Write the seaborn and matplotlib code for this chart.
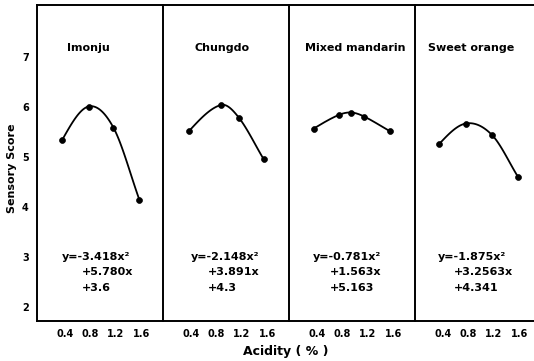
import numpy as np
import pandas as pd
import matplotlib
matplotlib.use("Agg")
import matplotlib.pyplot as plt
import seaborn as sns

# ---- data ----
cultivars = ["Imonju", "Chungdo", "Mixed mandarin", "Sweet orange"]
imonju_x = [0.36, 0.77, 1.16, 1.57]
imonju_y = [5.35, 6.01, 5.59, 4.14]
chungdo_x = [0.37, 0.87, 1.15, 1.54]
chungdo_y = [5.52, 6.04, 5.79, 4.96]
mixed_x = [0.35, 0.74, 0.94, 1.14, 1.54]
mixed_y = [5.57, 5.84, 5.89, 5.81, 5.52]
sweet_x = [0.34, 0.76, 1.17, 1.58]
sweet_y = [5.26, 5.67, 5.44, 4.60]
equations = [
    ["y=-3.418x²", "+5.780x", "+3.6"],
    ["y=-2.148x²", "+3.891x", "+4.3"],
    ["y=-0.781x²", "+1.563x", "+5.163"],
    ["y=-1.875x²", "+3.2563x", "+4.341"],
]
x_ticks = [0.4, 0.8, 1.2, 1.6]
x_ticklabels = ["0.4", "0.8", "1.2", "1.6"]
y_ticks = [2, 3, 4, 5, 6, 7]

series = [(imonju_x, imonju_y), (chungdo_x, chungdo_y),
          (mixed_x, mixed_y), (sweet_x, sweet_y)]

sns.set_style("white")
plt.rcParams["font.family"] = ["DejaVu Sans"]
plt.rcParams["font.weight"] = "bold"
for key in ["text.color", "axes.labelcolor", "xtick.color", "ytick.color"]:
    plt.rcParams[key] = "black"


def smooth_curve(xs, ys, n=40):
    """Cubic Hermite rendering of a line through the given points."""
    xs = np.asarray(xs, float)
    ys = np.asarray(ys, float)
    k = len(xs)
    sec = np.diff(ys) / np.diff(xs)
    m = np.zeros(k)
    for i in range(1, k - 1):
        m[i] = (ys[i + 1] - ys[i - 1]) / (xs[i + 1] - xs[i - 1])
    m[0] = 1.5 * sec[0] - 0.5 * m[1]
    m[-1] = sec[-1]
    out_x, out_y = [], []
    for i in range(k - 1):
        h = xs[i + 1] - xs[i]
        t = np.linspace(0, 1, n)
        h00 = 2 * t**3 - 3 * t**2 + 1
        h10 = t**3 - 2 * t**2 + t
        h01 = -2 * t**3 + 3 * t**2
        h11 = t**3 - t**2
        out_x.extend(xs[i] + t * h)
        out_y.extend(h00 * ys[i] + h10 * h * m[i] + h01 * ys[i + 1] + h11 * h * m[i + 1])
    return np.array(out_x), np.array(out_y)


W, H = 534, 361
fig = plt.figure(figsize=(W / 100, H / 100), dpi=100)

left_px, top_px, bot_px, pw = 37, 5, 321, 126
title_cx = [0.405, 0.468, 0.524, 0.444]
eq_x1 = [0.198, 0.222, 0.19, 0.183]
eq_x2 = [0.357, 0.357, 0.325, 0.31]

for i, (name, (xs, ys)) in enumerate(zip(cultivars, series)):
    x0 = left_px + i * pw
    ax = fig.add_axes([x0 / W, 1 - bot_px / H, pw / W, (bot_px - top_px) / H])
    ax.set_xlim(-0.04, 1.94)
    ax.set_ylim(1.72, 8.04)
    cx, cy = smooth_curve(xs, ys)
    ax.plot(cx, cy, color="black", lw=1.3, solid_capstyle="round")
    df = pd.DataFrame({"Acidity": xs, "Score": ys})
    sns.scatterplot(data=df, x="Acidity", y="Score", ax=ax, color="black",
                    s=18, edgecolor="black", linewidth=0.5, zorder=3)
    ax.set_xlabel("")
    ax.set_ylabel("")
    for side in ["left", "top", "bottom"]:
        ax.spines[side].set_visible(True)
        ax.spines[side].set_color("black")
        ax.spines[side].set_linewidth(1.4)
    ax.spines["right"].set_visible(False)
    ax.set_xticks(x_ticks)
    ax.set_xticklabels(x_ticklabels, fontsize=7, fontweight="bold")
    ax.tick_params(axis="x", direction="in", length=3, width=1.2, pad=6, color="black")
    if i == 0:
        ax.set_yticks(y_ticks)
        ax.set_yticklabels([str(v) for v in y_ticks], fontsize=7, fontweight="bold")
        ax.tick_params(axis="y", direction="in", length=3, width=1.2, pad=6)
    else:
        ax.set_yticks([])
    ax.text(title_cx[i], 0.864, name, transform=ax.transAxes, ha="center",
            va="center", fontsize=8, fontweight="bold")
    eq = equations[i]
    ax.text(eq_x1[i], 0.2025, eq[0], transform=ax.transAxes, ha="left",
            va="center", fontsize=8, fontweight="bold")
    ax.text(eq_x2[i], 0.155, eq[1], transform=ax.transAxes, ha="left",
            va="center", fontsize=8, fontweight="bold")
    ax.text(eq_x2[i], 0.104, eq[2], transform=ax.transAxes, ha="left",
            va="center", fontsize=8, fontweight="bold")

fig.text(12 / W, 1 - 168 / H, "Sensory Score", rotation=90, ha="center",
         va="center", fontsize=8, fontweight="bold")
fig.text(286 / W, 1 - 352 / H, "Acidity ( % )", ha="center", va="center",
         fontsize=9, fontweight="bold")

fig.savefig("out.png", dpi=100)
